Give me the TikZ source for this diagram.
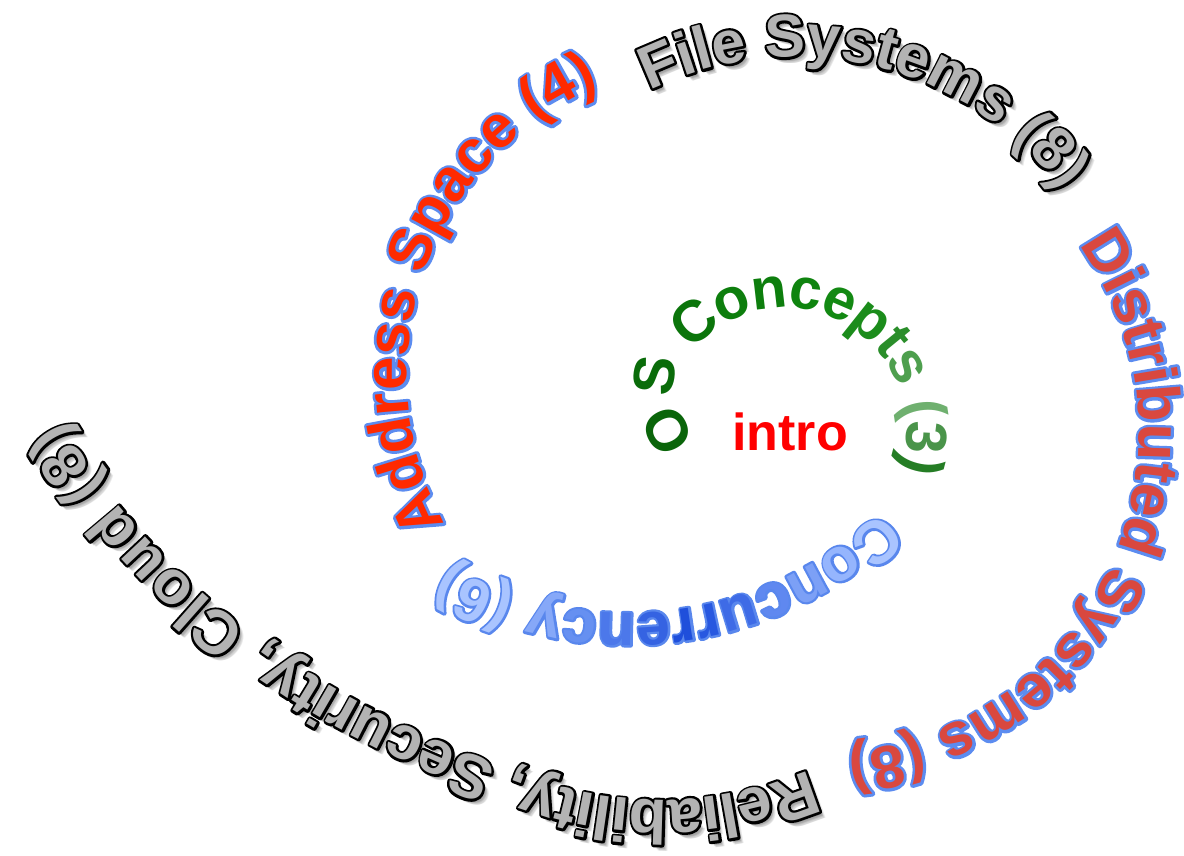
\documentclass[tikz,border=0pt]{standalone}
\usepackage{fontspec}
\setmainfont{Liberation Sans}

% glyph outlines through the PDF text render mode: the stroke is laid under
% the fill, so only its outer half shows
\newcommand\strokeoff{\special{pdf:literal direct 0 Tr}}
\newcommand\outlined[4]{% fill colour, stroke rgb, stroke width, character
  \rlap{\color{#1}\special{pdf:literal direct #2 RG #3 w 1 j 1 Tr}#4}%
  \strokeoff{\color{#1}#4}}
\newcommand\lp{(}
\newcommand\rp{)}
\newcommand\cm{,}

\definecolor{fsgray}{HTML}{B3B3B3}
\definecolor{shadowgray}{HTML}{505050}
\definecolor{addrred}{HTML}{FF2A00}
\definecolor{distred}{HTML}{D9483F}
\definecolor{introred}{HTML}{FF0000}
% green run of the innermost turn
\definecolor{g1}{HTML}{0A650A}
\definecolor{g2}{HTML}{0A6C0A}
\definecolor{g3}{HTML}{0B750B}
\definecolor{g4}{HTML}{0D7E0D}
\definecolor{g5}{HTML}{0F840F}
\definecolor{g6}{HTML}{138913}
\definecolor{g7}{HTML}{1B8C1B}
\definecolor{g8}{HTML}{2A8E2A}
\definecolor{g9}{HTML}{4E9F4E}
\definecolor{g10}{HTML}{6FB06F}
\definecolor{g11}{HTML}{4A944A}
\definecolor{g12}{HTML}{257D25}
% blue run of the second turn
\definecolor{b1}{HTML}{A9C4FF}
\definecolor{b2}{HTML}{95B5FD}
\definecolor{b3}{HTML}{7CA0F6}
\definecolor{b4}{HTML}{5F88F0}
\definecolor{b5}{HTML}{3E6BE6}
\definecolor{b6}{HTML}{2858E0}
\definecolor{b7}{HTML}{1F4FDB}
\definecolor{b8}{HTML}{3563E2}
\definecolor{b9}{HTML}{4C78EA}
\definecolor{b10}{HTML}{6690F1}
\definecolor{b11}{HTML}{86A8F8}

% character formats: #1 fill colour (ignored where fixed), #2 character
\newcommand\greenfmt[2]{\fontsize{58}{58}\selectfont\bfseries\strokeoff\color{#1}#2}
\newcommand\bluefmt[2]{\fontsize{61}{61}\selectfont\bfseries\outlined{#1}{0.35 0.53 0.93}{4.4}{#2}}
\newcommand\addrfmt[2]{\fontsize{60}{60}\selectfont\bfseries\outlined{addrred}{0.36 0.55 0.94}{5.6}{#2}}
\newcommand\distfmt[2]{\fontsize{60.5}{60.5}\selectfont\bfseries\outlined{distred}{0.36 0.55 0.94}{5.6}{#2}}
\newcommand\filefmt[2]{\fontsize{60.5}{60.5}\selectfont\bfseries\outlined{fsgray}{0 0 0}{4.8}{#2}}
\newcommand\relfmt[2]{\fontsize{62}{62}\selectfont\bfseries\outlined{fsgray}{0 0 0}{4.8}{#2}}
\newcommand\fileshadow[2]{\fontsize{60.5}{60.5}\selectfont\bfseries\strokeoff\color{shadowgray}#2}
\newcommand\relshadow[2]{\fontsize{62}{62}\selectfont\bfseries\strokeoff\color{shadowgray}#2}

% radius of each turn as a function of the angle
\newcommand\radOS[1]{(122-1.1*max(0,205-(#1)))}
\newcommand\radConc[1]{363}
\newcommand\radAddr[1]{313}
\newcommand\radFile[1]{(328+0.12*((#1)-245))}
\newcommand\radDist[1]{322}
\newcommand\radRel[1]{(380+0.045*max(0,(#1)-110)^2)}

\tikzset{glyph/.style={inner sep=0pt, outer sep=0pt, anchor=base}}

% Sets a run of characters along a spiral turn around (#1,#2), starting at
% angle #3 (clockwise on the page), radius macro #4, format #5, node names #6,
% characters #7 given as  char{colour} char{colour} ...
% \sptrack scales the advance from one character to the next.
\newlength\chw
\newcount\spidx
\def\sptrack{1}
\newcommand\spiraltext[7]{%
  \def\spcx{#1}\def\spcy{#2}\xdef\curphi{#3}%
  \let\sprad#4\let\spfmt#5\def\spname{#6}%
  \global\spidx=0
  \spiralnext#7\relax\relax}
\def\spiralnext#1#2{%
  \ifx\relax#1\else
    \spiralglyph{#1}{#2}%
    \expandafter\spiralnext
  \fi}
\newcommand\spiralglyph[2]{%
  \global\advance\spidx by 1
  \setbox0=\hbox{\pgfinterruptpicture\spfmt{#2}{#1}\endpgfinterruptpicture}%
  \chw=\wd0
  \pgfmathsetmacro\w{\chw*\sptrack}%
  \pgfmathsetmacro\ra{\sprad{\curphi}}%
  \pgfmathsetmacro\phc{\curphi+deg(0.5*\w/\ra)}%
  \pgfmathsetmacro\rc{\sprad{\phc}}%
  \pgfmathsetmacro\dr{(\sprad{\phc+0.5}-\sprad{\phc-0.5})*57.29578}%
  \pgfmathsetmacro\del{atan2(\dr,\rc)}%
  \pgfmathsetmacro\rot{-\phc-90+\del}%
  \pgfmathsetmacro\px{\spcx+\rc*cos(\phc)}%
  \pgfmathsetmacro\py{\spcy+\rc*sin(\phc)}%
  \node[glyph, rotate=\rot] (\spname-\the\spidx) at (\px,\py) {\spfmt{#2}{#1}};%
  \pgfmathsetmacro\nphi{\phc+deg(0.5*\w/veclen(\rc,\dr))}%
  \xdef\curphi{\nphi}}

% the two grey turns, drawn once as shadow and once as outlined text
\newcommand\filesystems[2]{%
  \def\sptrack{1}%
  \spiraltext{788}{388}{245}{\radFile}{#1}{#2}{F{x} i{x} l{x} e{x} ~{x} S{x} y{x}
    s{x} t{x} e{x} m{x} s{x} ~{x} \lp{x} 8{x} \rp{x}}}
\newcommand\reliability[2]{%
  \def\sptrack{0.98}%
  \spiraltext{660}{420}{67}{\radRel}{#1}{#2}{R{x} e{x} l{x} i{x} a{x} b{x} i{x}
    l{x} i{x} t{x} y{x} \cm{x} ~{x} S{x} e{x} c{x} u{x} r{x} i{x} t{x} y{x} \cm{x}
    ~{x} C{x} l{x} o{x} u{x} d{x} ~{x} \lp{x} 8{x} \rp{x}}}

\begin{document}
\begin{tikzpicture}[x=1pt, y=-1pt]
  \fill[white] (0,0) rectangle (1184,855);
  \useasboundingbox (0,0) rectangle (1184,855);

  % soft drop shadow under the grey turns
  \foreach \dx/\dy [count=\k] in {2/3, 3/4, 4/5, 5/6, 4/4, 6/6} {
    \begin{scope}[shift={(\dx,\dy)}, opacity=0.12]
      \filesystems{\fileshadow}{fss\k}
      \reliability{\relshadow}{rss\k}
    \end{scope}
  }

  % centre label
  \node[font=\fontsize{52}{52}\selectfont\bfseries, text=introred, glyph]
    (intro) at (790,450) {intro};

  % innermost turn
  \def\sptrack{0.96}
  \spiraltext{785}{430}{170}{\radOS}{\greenfmt}{os}{O{g1} S{g2} ~{g2} C{g3} o{g4}
    n{g4} c{g5} e{g6} p{g7} t{g8} s{g9} ~{g9} \lp{g10} 3{g11} \rp{g12}}

  % second turn
  \def\sptrack{1}
  \spiraltext{628}{250}{46}{\radConc}{\bluefmt}{conc}{C{b1} o{b2} n{b3} c{b4} u{b5}
    r{b6} r{b7} e{b8} n{b9} c{b10} y{b11} ~{b1} \lp{b1} 6{b1} \rp{b1}}

  \spiraltext{720}{375}{151.5}{\radAddr}{\addrfmt}{addr}{A{x} d{x} d{x} r{x} e{x}
    s{x} s{x} ~{x} S{x} p{x} a{x} c{x} e{x} ~{x} \lp{x} 4{x} \rp{x}}

  % third turn
  \filesystems{\filefmt}{fs}

  \def\sptrack{1}
  \spiraltext{817}{432}{324.4}{\radDist}{\distfmt}{dist}{D{x} i{x} s{x} t{x} r{x}
    i{x} b{x} u{x} t{x} e{x} d{x} ~{x} S{x} y{x} s{x} t{x} e{x} m{x} s{x} ~{x}
    \lp{x} 8{x} \rp{x}}

  \reliability{\relfmt}{rel}
\end{tikzpicture}
\end{document}
